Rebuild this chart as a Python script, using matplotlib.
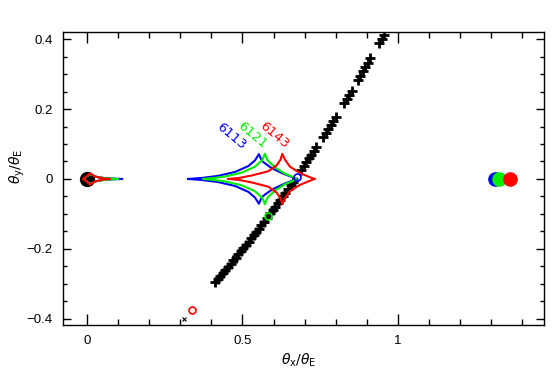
import matplotlib
matplotlib.use("Agg")
import matplotlib.pyplot as plt
from matplotlib.ticker import MultipleLocator, FuncFormatter

plt.rcParams['font.family'] = ['Liberation Sans', 'DejaVu Sans']
plt.rcParams['mathtext.fontset'] = 'dejavusans'

# ---- data ----
# planetary caustics (upper half, left cusp -> top cusp -> right cusp); lower half mirrored
caus_names = ['6113', '6121', '6143']
caus_colors = ['#0000ff', '#00ee00', '#ff0000']
blue_x = [0.325, 0.370, 0.422, 0.476, 0.519, 0.540, 0.553, 0.562, 0.572, 0.594, 0.617, 0.637, 0.658, 0.676]
blue_y = [0.000, 0.003, 0.009, 0.020, 0.037, 0.053, 0.071, 0.052, 0.045, 0.031, 0.021, 0.013, 0.006, 0.000]
green_x = [0.374, 0.410, 0.444, 0.497, 0.540, 0.564, 0.572, 0.581, 0.605, 0.637, 0.664, 0.672]
green_y = [0.000, 0.003, 0.007, 0.018, 0.035, 0.054, 0.072, 0.053, 0.033, 0.015, 0.005, 0.000]
red_x = [0.454, 0.490, 0.530, 0.583, 0.610, 0.623, 0.628, 0.637, 0.653, 0.685, 0.712, 0.732]
red_y = [0.000, 0.003, 0.010, 0.022, 0.039, 0.056, 0.072, 0.055, 0.035, 0.017, 0.007, 0.000]

# central caustics near the host (upper half)
cblue_x = [-0.012, 0.000, 0.010, 0.030, 0.060, 0.112]
cblue_y = [0.000, 0.008, 0.013, 0.006, 0.002, 0.000]
cgreen_x = [-0.012, 0.000, 0.010, 0.030, 0.060, 0.099]
cgreen_y = [0.000, 0.008, 0.014, 0.006, 0.002, 0.000]
cred_x = [-0.013, 0.000, 0.009, 0.025, 0.050, 0.073]
cred_y = [0.000, 0.009, 0.016, 0.007, 0.002, 0.000]

# host and planet positions
host_x, host_y = 0.0, 0.0
planet_x = [1.313, 1.326, 1.362]
planet_y = [0.0, 0.0, 0.0]

# source trajectory data points
traj_x = [0.411, 0.420, 0.428, 0.436, 0.445, 0.453, 0.462, 0.470, 0.478, 0.487,
          0.495, 0.503, 0.512, 0.520, 0.528, 0.537, 0.545, 0.553, 0.561, 0.570,
          0.578, 0.590, 0.598, 0.606, 0.614, 0.622, 0.630, 0.638, 0.646, 0.655,
          0.663, 0.690, 0.698, 0.706, 0.714, 0.722, 0.730, 0.738, 0.760, 0.768,
          0.776, 0.784, 0.792, 0.800, 0.828, 0.836, 0.844, 0.852, 0.872, 0.880,
          0.888, 0.896, 0.904, 0.912, 0.940, 0.948, 0.955]
traj_y = [-0.294, -0.285, -0.277, -0.269, -0.260, -0.251, -0.242, -0.233, -0.225, -0.215,
          -0.207, -0.198, -0.188, -0.179, -0.170, -0.160, -0.151, -0.142, -0.132, -0.122,
          -0.112, -0.098, -0.089, -0.079, -0.069, -0.059, -0.049, -0.040, -0.030, -0.018,
          -0.008, 0.027, 0.037, 0.048, 0.059, 0.069, 0.080, 0.091, 0.121, 0.132,
          0.144, 0.155, 0.166, 0.177, 0.218, 0.230, 0.241, 0.253, 0.283, 0.295,
          0.308, 0.320, 0.332, 0.345, 0.389, 0.401, 0.413]

# special source positions
cross_x, cross_y = 0.312, -0.400
src_red = (0.336, -0.375)
src_green = (0.583, -0.107)
src_blue = (0.675, 0.006)

# ---- plot ----
fig = plt.figure(figsize=(5.56, 3.76), dpi=100)
ax = fig.add_axes([0.1128, 0.1356, 0.8656, 0.7806])

ax.plot(traj_x, traj_y, linestyle='none', marker='+', color='black',
        markersize=7, markeredgewidth=2.0, zorder=2)
ax.plot([cross_x], [cross_y], linestyle='none', marker='x', color='black',
        markersize=3, markeredgewidth=0.8)

ax.plot([host_x], [host_y], 'o', color='black', markersize=10, zorder=3)

cx_all = [blue_x, green_x, red_x]
cy_all = [blue_y, green_y, red_y]
cc_x = [cblue_x, cgreen_x, cred_x]
cc_y = [cblue_y, cgreen_y, cred_y]
for xs, ys, col in zip(cx_all, cy_all, caus_colors):
    ax.plot(xs, ys, color=col, lw=1.5, zorder=4)
    ax.plot(xs, [-v for v in ys], color=col, lw=1.5, zorder=4)
for xs, ys, col in zip(cc_x, cc_y, caus_colors):
    ax.plot(xs, ys, color=col, lw=1.5, zorder=4)
    ax.plot(xs, [-v for v in ys], color=col, lw=1.5, zorder=4)

for px, py, col in zip(planet_x, planet_y, caus_colors):
    ax.plot([px], [py], 'o', color=col, markersize=9.5, zorder=5)

for (sx, sy), col in zip([src_red, src_green, src_blue], ['#ff0000', '#00ee00', '#0000ff']):
    ax.plot([sx], [sy], 'o', markerfacecolor='none', markeredgecolor=col,
            markersize=5, markeredgewidth=1.2, zorder=6)

label_pos = [(0.463, 0.123), (0.533, 0.125), (0.603, 0.125)]
for name, col, (lx, ly) in zip(caus_names, caus_colors, label_pos):
    ax.text(lx, ly, name, color=col, fontsize=9.5, rotation=-40,
            ha='center', va='center', family='DejaVu Sans', rotation_mode='anchor')

ax.set_xlim(-0.079, 1.471)
ax.set_ylim(-0.418, 0.422)
ax.xaxis.set_major_locator(MultipleLocator(0.5))
ax.xaxis.set_minor_locator(MultipleLocator(0.1))
ax.yaxis.set_major_locator(MultipleLocator(0.2))
ax.yaxis.set_minor_locator(MultipleLocator(0.05))
fmt = FuncFormatter(lambda v, p: ('%g' % round(v, 3)).replace('-', '\u2212'))
ax.xaxis.set_major_formatter(fmt)
ax.yaxis.set_major_formatter(fmt)
ax.tick_params(which='both', direction='in', top=True, right=True, labelsize=9.5, width=1.0)
ax.tick_params(axis='x', which='major', length=8, pad=7)
ax.tick_params(axis='x', which='minor', length=4)
ax.tick_params(axis='y', which='major', length=6, pad=7)
ax.tick_params(axis='y', which='minor', length=3)
for s in ax.spines.values():
    s.set_linewidth(1.0)

ax.set_xlabel(r'$\theta_{\rm x}/\theta_{\rm E}$', fontsize=10)
ax.xaxis.set_label_coords(0.49, -0.09)
ax.set_ylabel(r'$\theta_{\rm y}/\theta_{\rm E}$', fontsize=10)
ax.yaxis.set_label_coords(-0.075, 0.54)

fig.savefig('out.png', dpi=100)
